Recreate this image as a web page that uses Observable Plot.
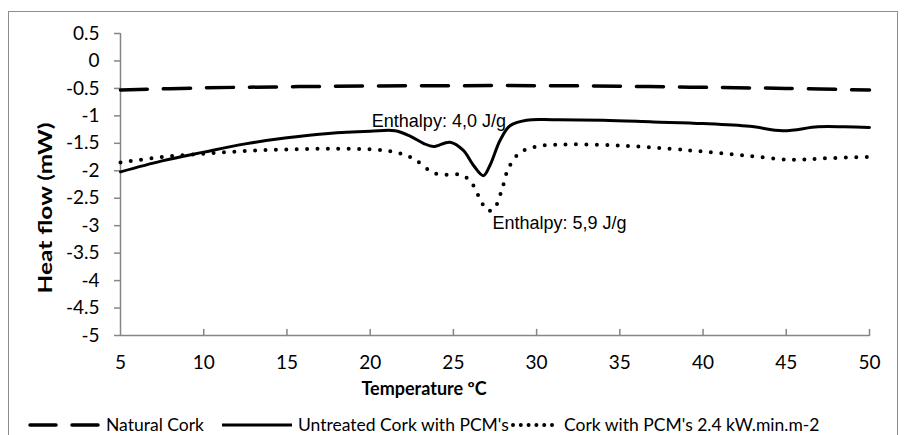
<!DOCTYPE html>
<html><head><meta charset="utf-8">
<script src="https://cdn.jsdelivr.net/npm/d3@7"></script>
<script src="https://cdn.jsdelivr.net/npm/@observablehq/plot@0.6"></script>
<style>
body{margin:0;background:#fff;}
#wrap{position:relative;width:904px;height:435px;overflow:hidden;font-family:Lato,sans-serif;background:#fff;}
#frame{position:absolute;left:8px;top:11px;width:890px;height:460px;border:1.5px solid #8c8c8c;box-sizing:border-box;}
#chart{position:absolute;left:0;top:0;}
#legend{position:absolute;left:0;top:412px;width:904px;height:26px;font-size:17.5px;color:#000;}
.li{position:absolute;top:0;white-space:nowrap;line-height:26px;}
.ls{position:absolute;top:0;}
</style></head><body>
<div id="wrap"><div id="frame"></div><div id="chart"></div><div id="legend"></div></div>
<script>
// ---- data ----
const seriesNames = ["Natural Cork", "Untreated Cork with PCM's", "Cork with PCM's 2.4 kW.min.m-2"];

const naturalT = [5, 10, 15, 20, 25, 30, 35, 40, 45, 50];
const naturalV = [-0.53, -0.49, -0.47, -0.455, -0.45, -0.45, -0.46, -0.48, -0.50, -0.53];

const untreatedT = [5, 7.5, 10, 12.5, 15, 17.5, 20, 21.5, 22.4, 23.2, 23.8, 24.8, 25.6, 26.2, 26.8, 27.2, 27.8, 28.4, 29.4, 31, 34, 37, 40, 42.8, 44.8, 46.9, 48.5, 50];
const untreatedV = [-2.02, -1.82, -1.66, -1.51, -1.40, -1.32, -1.28, -1.27, -1.37, -1.50, -1.56, -1.48, -1.63, -1.90, -2.09, -1.90, -1.45, -1.18, -1.08, -1.07, -1.08, -1.11, -1.14, -1.19, -1.27, -1.20, -1.20, -1.21];

const pcmT = [5, 7.5, 10, 12.5, 15, 17.5, 20, 21.5, 22.6, 23.6, 24.2, 25.4, 26.0, 26.6, 27.0, 27.4, 27.9, 28.3, 29.0, 30.2, 32, 35, 38, 40, 42.5, 45.3, 47.5, 50];
const pcmV = [-1.85, -1.75, -1.69, -1.64, -1.61, -1.60, -1.61, -1.66, -1.78, -2.00, -2.07, -2.07, -2.18, -2.51, -2.71, -2.71, -2.36, -1.96, -1.67, -1.55, -1.52, -1.54, -1.60, -1.65, -1.72, -1.80, -1.77, -1.75];

const xTicks = [5, 10, 15, 20, 25, 30, 35, 40, 45, 50];
const yTicks = [0.5, 0, -0.5, -1, -1.5, -2, -2.5, -3, -3.5, -4, -4.5, -5];

const annText = ["Enthalpy: 4,0 J/g", "Enthalpy: 5,9 J/g"];
const annT = [20.1, 27.35];
const annV = [-1.10, -2.96];

const xTitle = "Temperature ºC";
const yTitle = "Heat flow (mW)";

// ---- build ----
const rows = (ts, vs) => ts.map((t, i) => ({t, v: vs[i]}));
const axisGray = "#868686";
const tickShape = {draw(ctx, l) { ctx.moveTo(0, 0); ctx.lineTo(0, -l); }};

const chart = Plot.plot({
  width: 904, height: 405,
  marginLeft: 120, marginRight: 35, marginTop: 33, marginBottom: 70,
  x: {domain: [5, 50]},
  y: {domain: [-5, 0.5]},
  style: {fontFamily: "Lato, sans-serif", fontSize: "19px", color: "#000", background: "transparent", overflow: "visible"},
  marks: [
    Plot.ruleX([5], {stroke: axisGray, strokeWidth: 1.5}),
    Plot.ruleY([-5], {stroke: axisGray, strokeWidth: 1.5}),
    Plot.axisY({ticks: yTicks, tickSize: 6, tickPadding: 15, tickFormat: d => String(d), stroke: axisGray, strokeWidth: 1.5, fill: "#000", label: null}),
    Plot.axisX({ticks: xTicks, tickSize: 0, tickPadding: 20, fill: "#000", label: null}),
    Plot.vector(xTicks.slice(1), {x: d => d, y: -5, length: 6, anchor: "start", stroke: axisGray, strokeWidth: 1.5, shape: tickShape}),
    Plot.line(rows(naturalT, naturalV), {x: "t", y: "v", stroke: "#000", strokeWidth: 3.5, strokeDasharray: "27,16", strokeLinecap: "round", curve: "catmull-rom"}),
    Plot.line(rows(untreatedT, untreatedV), {x: "t", y: "v", stroke: "#000", strokeWidth: 3, curve: "catmull-rom"}),
    Plot.line(rows(pcmT, pcmV), {x: "t", y: "v", stroke: "#000", strokeWidth: 4, strokeDasharray: "0,10.4", strokeLinecap: "round", curve: "catmull-rom"}),
    Plot.text(annText.map((s, i) => ({s, t: annT[i], v: annV[i]})), {x: "t", y: "v", text: "s", textAnchor: "start", fontFamily: "'Liberation Sans', Arial, sans-serif", fontSize: 18, fill: "#000"}),
    Plot.text([xTitle], {frameAnchor: "bottom", dx: -71, dy: 59, fontWeight: "bold", fontSize: 18, fill: "#000"}),
    Plot.text([yTitle], {frameAnchor: "left", dx: -75, dy: 109, rotate: -90, textAnchor: "start", fontWeight: "bold", fontSize: 19, fill: "#000"})
  ]
});
d3.select(chart).selectAll("text").filter(function() { return this.textContent === yTitle; })
  .attr("textLength", 171).attr("lengthAdjust", "spacingAndGlyphs");
document.getElementById("chart").appendChild(chart);

// ---- legend ----
const leg = d3.select("#legend");
function sample(left, width, style) {
  const s = leg.append("svg").attr("class", "ls").style("left", left + "px").attr("width", width).attr("height", 26);
  s.append("line").attr("x1", style.pad).attr("x2", width - style.pad).attr("y1", 13).attr("y2", 13)
    .attr("stroke", "#000").attr("stroke-width", style.w)
    .attr("stroke-dasharray", style.dash || null).attr("stroke-linecap", style.cap || "butt");
}
sample(28, 72, {w: 3.5, dash: "26,16", cap: "round", pad: 2});
leg.append("span").attr("class", "li").style("left", "106px").text(seriesNames[0]);
sample(220, 74, {w: 3, pad: 2});
leg.append("span").attr("class", "li").style("left", "298px").text(seriesNames[1]);
sample(510, 52, {w: 4, dash: "0,7.8", cap: "round", pad: 3});
leg.append("span").attr("class", "li").style("left", "564px").text(seriesNames[2]);
</script>
</body></html>
